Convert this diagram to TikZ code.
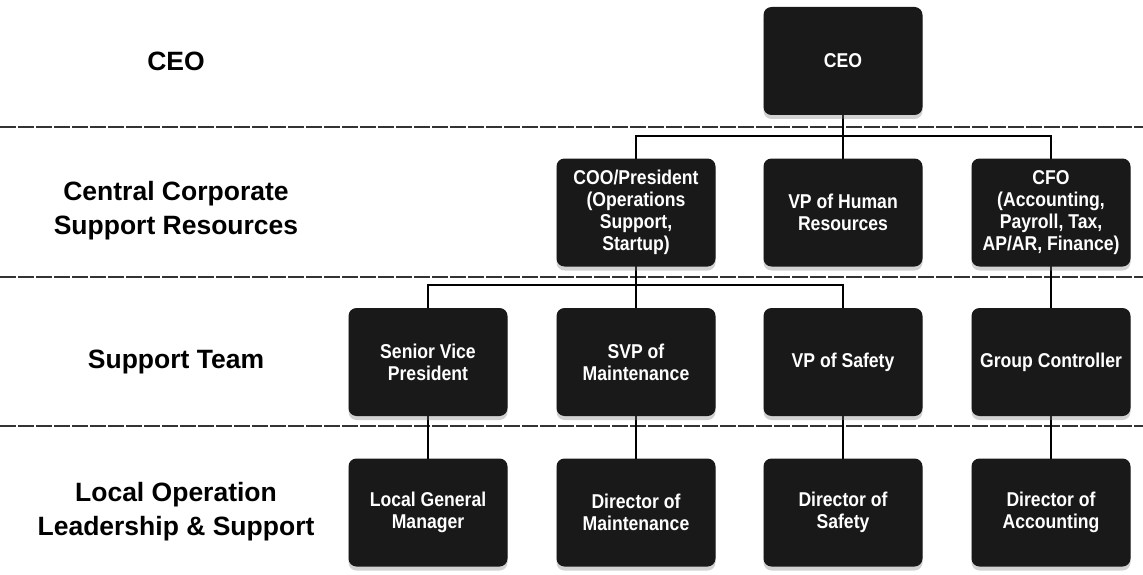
\documentclass[tikz,border=0pt]{standalone}
\usepackage{fontspec}
\setmainfont{Liberation Sans}
\newfontfamily\boxfont[FakeStretch=0.88]{Liberation Sans}
\usetikzlibrary{shadows}
\begin{document}
\begin{tikzpicture}[x=1pt,y=-1pt,
  role/.style={fill=black!90, rounded corners=8pt, minimum width=159pt, minimum height=108pt,
    text=white, align=center, inner sep=2pt,
    font=\boxfont\bfseries\fontsize{20}{22}\selectfont,
    drop shadow={shadow xshift=0pt, shadow yshift=-4pt, opacity=0.35}},
  tier/.style={align=center, font=\bfseries\fontsize{26.5}{34}\selectfont, text=black},
  sep/.style={draw=black!80, line width=1.5pt, dash pattern=on 16pt off 2pt},
  link/.style={draw=black, line width=2pt}]
\fill[white] (0,0) rectangle (1143,575);
\useasboundingbox (0,0) rectangle (1143,575);

% separators
\draw[sep] (0,127) -- (1143,127);
\draw[sep] (0,277) -- (1143,277);
\draw[sep] (0,426) -- (1143,426);

% tier labels
\node[tier] (tceo) at (176,61) {CEO};
\node[tier] (tccs) at (176,211) {Central Corporate\\Support Resources};
\node[tier] (tst) at (176,362) {Support Team};
\node[tier] (tlo) at (176,512) {Local Operation\\Leadership \& Support};

% coordinates for junctions
\coordinate (j1) at (843,136);
\coordinate (j2) at (636,285);

% connectors (drawn first, behind boxes)
\draw[link] (843,61) -- (843,212.5);
\draw[link] (636,212.5) |- (j1) -| (1051,212.5);
\draw[link] (636,212.5) -- (636,362);
\draw[link] (428,362) |- (j2) -| (843,362);
\draw[link] (1051,212.5) -- (1051,362);
\draw[link] (428,362) -- (428,512.5);
\draw[link] (636,362) -- (636,512.5);
\draw[link] (843,362) -- (843,512.5);
\draw[link] (1051,362) -- (1051,512.5);

% boxes
\node[role] (ceo) at (843,61) {CEO};
\node[role] (coo) at (636,212.5) {COO/President\\(Operations\\Support,\\Startup)};
\node[role] (vphr) at (843,212.5) {VP of Human\\Resources};
\node[role] (cfo) at (1051,212.5) {CFO\\(Accounting,\\Payroll, Tax,\\AP/AR, Finance)};
\node[role] (svp) at (428,362) {Senior Vice\\President};
\node[role] (svpm) at (636,362) {SVP of\\Maintenance};
\node[role] (vps) at (843,362) {VP of Safety};
\node[role] (gc) at (1051,362) {Group Controller};
\node[role] (lgm) at (428,512.5) {Local General\\Manager};
\node[role] (dm) at (636,512.5) {Director of\\Maintenance};
\node[role] (ds) at (843,512.5) {Director of\\Safety};
\node[role] (da) at (1051,512.5) {Director of\\Accounting};
\end{tikzpicture}
\end{document}
